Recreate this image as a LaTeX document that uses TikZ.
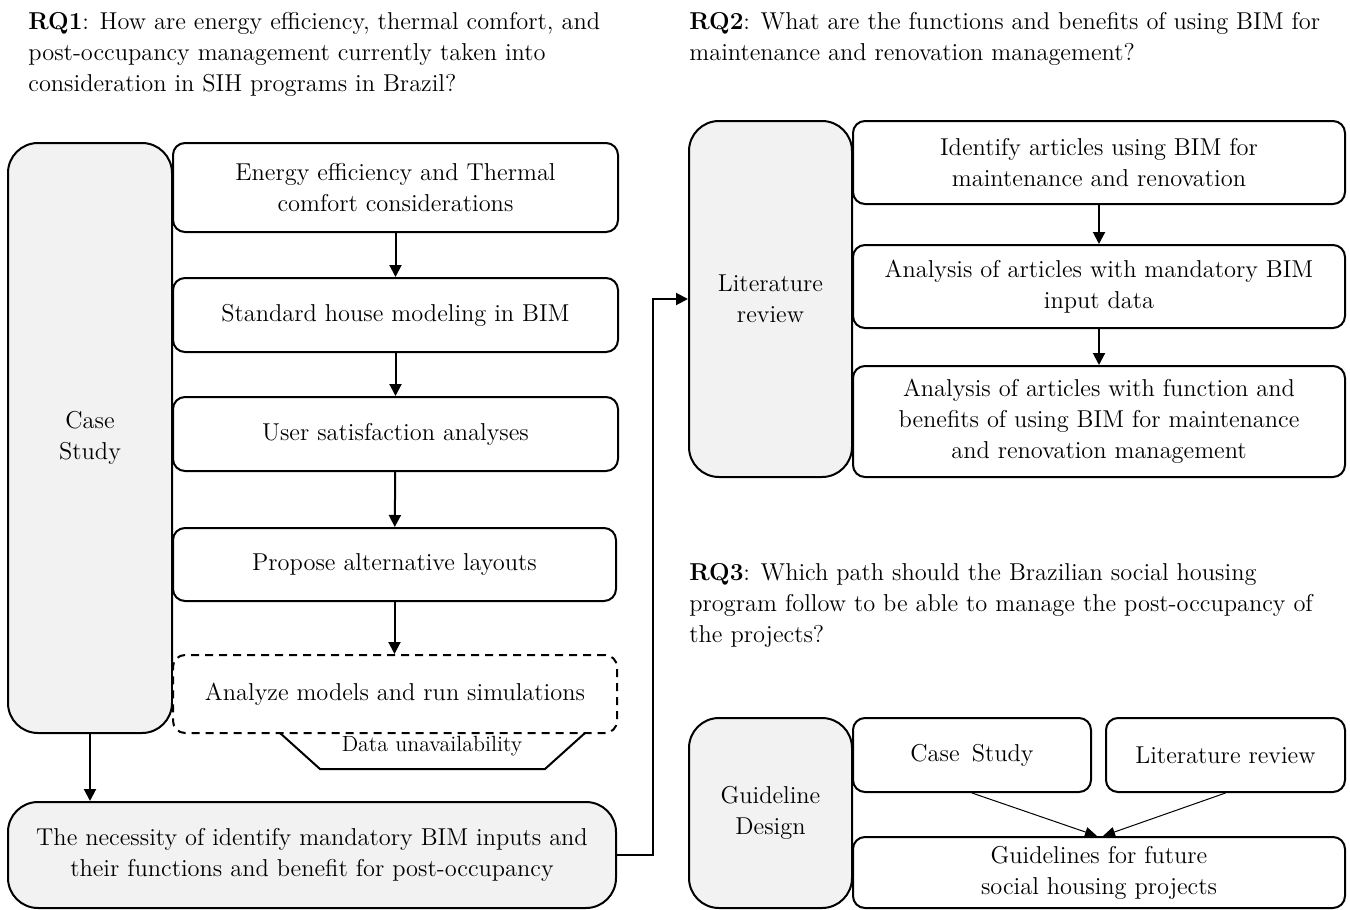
\documentclass[tikz,border=0pt]{standalone}
\usetikzlibrary{arrows.meta,calc}
\definecolor{boxgray}{HTML}{F2F2F2}
\begin{document}
\begin{tikzpicture}[x=0.5pt,y=-0.5pt,
    font=\fontsize{12.2}{15.5}\selectfont,
    box/.style={draw,line width=1pt,rounded corners=6pt,align=center,inner sep=0pt,fill=white},
    graybox/.style={box,fill=boxgray,rounded corners=15pt},
    rq/.style={anchor=north west,align=left,inner sep=0pt},
    arr/.style={line width=1pt,-{Triangle[length=6pt,width=6pt]}},
    thinarr/.style={line width=0.5pt,-{Triangle[length=6pt,width=5pt]}}]
    \useasboundingbox (0,0) rectangle (1350,910);
    % research questions
    \node[rq] (rq1) at (28,12) {\textbf{RQ1}: How are energy efficiency, thermal comfort, and\\post-occupancy management currently taken into\\consideration in SIH programs in Brazil?};
    \node[rq] (rq2) at (689,12) {\textbf{RQ2}: What are the functions and benefits of using BIM for\\maintenance and renovation management?};
    \node[rq] (rq3) at (689,563) {\textbf{RQ3}: Which path should the Brazilian social housing\\program follow to be able to manage the post-occupancy of\\the projects?};
    % case study column
    \node[graybox,minimum width=82pt,minimum height=295pt] (cs) at (90,438) {Case\\Study};
    \node[box,minimum width=222.5pt,minimum height=44.5pt] (b1) at (395.5,187.5) {Energy efficiency and Thermal\\comfort considerations};
    \node[box,minimum width=222.5pt,minimum height=37pt] (b2) at (395.5,315) {Standard house modeling in BIM};
    \node[box,minimum width=222.5pt,minimum height=37pt] (b3) at (395.5,434) {User satisfaction analyses};
    \node[box,minimum width=221.5pt,minimum height=36.5pt] (b4) at (394.5,564.5) {Propose alternative layouts};
    \node[box,dashed,dash pattern=on 4pt off 3pt,minimum width=222pt,minimum height=39pt] (b5) at (395,694) {Analyze models and run simulations};
    \coordinate (t1) at (280,733);
    \coordinate (t2) at (320,769);
    \coordinate (t3) at (545,769);
    \coordinate (t4) at (585,733);
    \draw[line width=1pt] (t1) -- (t2) -- (t3) -- (t4);
    \node[font=\fontsize{11}{13}\selectfont] (du) at (432,746) {Data unavailability};
    \node[graybox,minimum width=304pt,minimum height=53pt] (nec) at (312,855) {The necessity of identify mandatory BIM inputs and\\their functions and benefit for post-occupancy};
    \draw[arr] (b1) -- (b2);
    \draw[arr] (b2) -- (b3);
    \draw[arr] (b3) -- (b4);
    \draw[arr] (b4.south) -- (b4.south |- b5.north);
    \draw[arr] (cs.south) -- (cs.south |- nec.north);
    % literature review
    \node[graybox,minimum width=81.5pt,minimum height=178pt] (lit) at (770.5,299) {Literature\\review};
    \node[box,minimum width=246pt,minimum height=41.5pt] (l1) at (1099,162.5) {Identify articles using BIM for\\maintenance and renovation};
    \node[box,minimum width=246pt,minimum height=41.5pt] (l2) at (1099,286.5) {Analysis of articles with mandatory BIM\\input data};
    \node[box,minimum width=246pt,minimum height=55.5pt] (l3) at (1099,421.5) {Analysis of articles with function and\\benefits of using BIM for maintenance\\and renovation management};
    \draw[arr] (l1) -- (l2);
    \draw[arr] (l2) -- (l3);
    \draw[arr] (nec.east) -- ++(36,0) |- (lit.west);
    % guideline design
    \node[graybox,minimum width=81.5pt,minimum height=95pt] (gd) at (770.5,813) {Guideline\\Design};
    \node[box,minimum width=119pt,minimum height=37pt] (g1) at (972,755) {Case\enspace Study};
    \node[box,minimum width=119.5pt,minimum height=37pt] (g2) at (1225.5,755) {Literature review};
    \node[box,minimum width=246pt,minimum height=35.5pt] (g3) at (1099,872.5) {Guidelines for future\\social housing projects};
    \draw[thinarr] (g1.south) -- ([xshift=-1pt]g3.north);
    \draw[thinarr] (g2.south) -- ([xshift=2pt]g3.north);
\end{tikzpicture}
\end{document}
